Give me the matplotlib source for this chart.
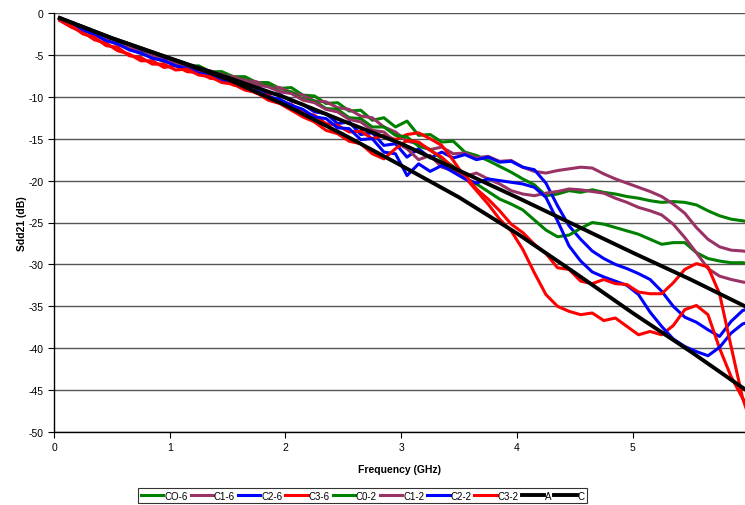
import numpy as np
import matplotlib
matplotlib.use('Agg')
import matplotlib.pyplot as plt

plt.rcParams['font.family'] = ['Liberation Sans', 'DejaVu Sans']
plt.rcParams['axes.unicode_minus'] = False

# frequency grid (GHz) for the measured curves
freq = list(np.round(np.arange(0.05, 6.0, 0.1), 2)) + [6.0]

c0_6 = [-0.7, -1.2, -1.8, -2.3, -3.0, -3.5, -4.1, -4.5, -5.0, -5.5,
        -5.7, -6.4, -6.3, -7.0, -7.0, -7.6, -7.6, -8.3, -8.3, -9.0,
        -8.9, -9.8, -9.9, -10.8, -10.7, -11.7, -11.6, -12.8, -12.5, -13.6,
        -12.9, -14.6, -14.5, -15.4, -15.3, -16.6, -17.0, -17.6, -18.3, -19.0,
        -19.8, -20.5, -21.8, -21.6, -21.2, -21.4, -21.1, -21.4, -21.6, -21.9,
        -22.1, -22.4, -22.6, -22.5, -22.6, -22.9, -23.6, -24.2, -24.6, -24.8, -24.9]
c1_6 = [-0.7, -1.2, -1.9, -2.4, -3.1, -3.5, -4.2, -4.6, -5.2, -5.4,
        -6.0, -6.2, -6.7, -6.9, -7.4, -7.6, -8.0, -8.2, -8.8, -8.9,
        -9.5, -9.8, -10.5, -10.6, -11.3, -11.5, -12.3, -12.5, -13.6, -14.2,
        -15.3, -15.6, -16.3, -16.0, -16.8, -16.7, -17.3, -17.1, -17.7, -17.6,
        -18.4, -18.9, -19.1, -18.8, -18.6, -18.4, -18.5, -19.2, -19.8, -20.3,
        -20.8, -21.3, -21.9, -22.8, -23.9, -25.6, -27.0, -27.9, -28.3, -28.4, -28.5]
c2_6 = [-0.7, -1.2, -1.9, -2.5, -3.1, -3.6, -4.2, -4.7, -5.2, -5.6,
        -6.1, -6.4, -6.9, -7.2, -7.7, -8.0, -8.6, -8.9, -9.6, -9.7,
        -10.5, -10.9, -11.8, -12.0, -13.2, -13.0, -14.5, -14.3, -15.8, -15.6,
        -17.2, -16.2, -17.3, -16.6, -17.3, -16.9, -17.5, -17.2, -17.8, -17.7,
        -18.4, -18.7, -20.3, -23.0, -25.4, -27.0, -28.4, -29.3, -30.0, -30.5,
        -31.1, -31.8, -33.2, -35.0, -36.3, -36.9, -37.8, -38.6, -36.8, -35.5, -35.3]
c3_6 = [-0.9, -1.7, -2.3, -3.2, -3.6, -4.5, -4.9, -5.7, -5.7, -6.5,
        -6.3, -7.0, -7.1, -7.8, -7.9, -8.6, -8.8, -9.6, -9.8, -10.7,
        -10.9, -11.9, -12.2, -13.2, -13.4, -14.2, -14.1, -15.0, -14.6, -15.1,
        -14.5, -14.3, -15.0, -15.8, -17.6, -19.6, -21.2, -22.8, -24.6, -26.0,
        -28.2, -31.0, -33.6, -35.0, -35.6, -36.0, -35.8, -36.7, -36.4, -37.4,
        -38.4, -38.0, -38.4, -37.3, -35.4, -34.9, -36.0, -40.0, -43.4, -46.0, -46.8]
c0_2 = [-0.7, -1.3, -1.9, -2.6, -3.1, -3.7, -4.2, -4.8, -5.2, -5.8,
        -5.9, -6.6, -6.5, -7.2, -7.2, -7.9, -7.9, -8.6, -8.6, -9.4,
        -9.4, -10.3, -10.5, -11.4, -11.5, -12.5, -12.6, -13.6, -13.6, -14.6,
        -14.8, -15.9, -16.3, -17.4, -18.3, -19.7, -20.4, -21.3, -22.2, -22.8,
        -23.5, -24.7, -25.9, -26.7, -26.5, -25.7, -25.0, -25.2, -25.6, -26.0,
        -26.4, -27.0, -27.6, -27.4, -27.4, -28.6, -29.3, -29.6, -29.8, -29.8, -29.9]
c1_2 = [-0.7, -1.3, -1.8, -2.6, -3.0, -3.8, -4.1, -4.8, -5.1, -5.7,
        -5.9, -6.5, -6.6, -7.2, -7.3, -7.9, -8.0, -8.6, -8.8, -9.4,
        -9.6, -10.4, -10.7, -11.5, -11.8, -12.7, -13.0, -14.0, -14.2, -15.4,
        -16.2, -17.5, -17.0, -18.4, -18.8, -19.5, -19.1, -19.8, -20.4, -21.2,
        -21.6, -21.8, -21.5, -21.3, -21.0, -21.1, -21.3, -21.5, -22.1, -22.6,
        -23.2, -23.6, -24.1, -25.2, -26.8, -28.6, -30.5, -31.4, -31.8, -32.1, -32.2]
c2_2 = [-0.8, -1.3, -2.0, -2.6, -3.3, -3.7, -4.4, -4.8, -5.4, -5.7,
        -6.3, -6.6, -7.2, -7.5, -8.1, -8.4, -9.0, -9.3, -10.0, -10.3,
        -11.0, -11.5, -12.4, -12.6, -13.7, -13.8, -15.1, -15.0, -16.6, -16.8,
        -19.4, -18.0, -18.9, -18.2, -19.0, -19.8, -20.3, -19.8, -20.0, -20.2,
        -20.4, -20.8, -22.0, -24.8, -27.8, -29.6, -30.9, -31.5, -32.0, -32.5,
        -33.6, -35.7, -37.4, -38.9, -39.8, -40.4, -40.9, -39.9, -38.2, -37.1, -36.9]
c3_2 = [-0.8, -1.5, -2.5, -2.9, -3.9, -4.1, -5.1, -5.3, -6.1, -6.1,
        -6.8, -6.7, -7.4, -7.6, -8.3, -8.5, -9.2, -9.5, -10.4, -10.8,
        -11.6, -12.4, -13.0, -14.0, -14.4, -15.3, -15.6, -16.8, -17.4, -16.2,
        -15.2, -15.4, -16.4, -17.2, -18.5, -19.3, -21.0, -22.2, -23.6, -25.2,
        -26.2, -27.6, -28.7, -30.4, -30.6, -32.0, -32.3, -31.8, -32.3, -32.4,
        -33.3, -33.5, -33.5, -32.2, -30.6, -29.9, -30.3, -33.5, -39.8, -46.0, -48.0]

# fitted curves A and C
fit_freq = [0.05, 0.5, 1.0, 1.5, 2.0, 2.5, 3.0, 3.5, 4.0, 4.5, 5.0, 5.5, 6.0]
fit_a = [-0.6, -3.0, -5.4, -7.7, -10.1, -12.9, -15.6, -18.8, -22.0, -25.3, -28.6, -31.8, -35.2]
fit_c = [-0.6, -3.0, -5.4, -7.9, -11.0, -14.5, -18.2, -22.0, -26.3, -31.0, -35.8, -40.4, -45.2]

series = [
    ('CO-6', c0_6, '#008000'),
    ('C1-6', c1_6, '#993366'),
    ('C2-6', c2_6, '#0000FF'),
    ('C3-6', c3_6, '#FF0000'),
    ('C0-2', c0_2, '#008000'),
    ('C1-2', c1_2, '#993366'),
    ('C2-2', c2_2, '#0000FF'),
    ('C3-2', c3_2, '#FF0000'),
]

fig = plt.figure(figsize=(7.45, 5.06), dpi=100)
ax = fig.add_axes([54/745, 1-433/506, (745-54)/745, (433-14)/506])

for name, vals, col in series:
    ax.plot(freq, vals, color=col, lw=2.2, label=name)
ax.plot(fit_freq, fit_a, color='black', lw=2.8, label='A')
ax.plot(fit_freq, fit_c, color='black', lw=2.8, label='C')

ax.set_xlim(0, 5.97)
ax.set_ylim(-50, 0)
ax.set_xticks([0, 1, 2, 3, 4, 5])
ax.set_yticks(range(-50, 1, 5))
ax.tick_params(labelsize=7.5, length=4, width=0.8, direction='out')
ax.yaxis.grid(True, color='#555555', lw=1.0)
ax.set_axisbelow(True)
for s in ['top', 'right']:
    ax.spines[s].set_visible(False)
ax.spines['left'].set_linewidth(1.0)
ax.spines['bottom'].set_linewidth(1.0)

ax.set_xlabel('Frequency (GHz)', fontsize=7.5, fontweight='bold', labelpad=8)
ax.set_ylabel('Sdd21 (dB)', fontsize=7.5, fontweight='bold', labelpad=1)

leg = fig.legend(loc='center', bbox_to_anchor=(0.487, 0.018), ncol=10, fontsize=7,
                 handlelength=2.3, handletextpad=0.1, columnspacing=0.3,
                 borderpad=0.25, fancybox=False, edgecolor='black')
leg.get_frame().set_linewidth(0.8)

fig.savefig('out.png', dpi=100)
